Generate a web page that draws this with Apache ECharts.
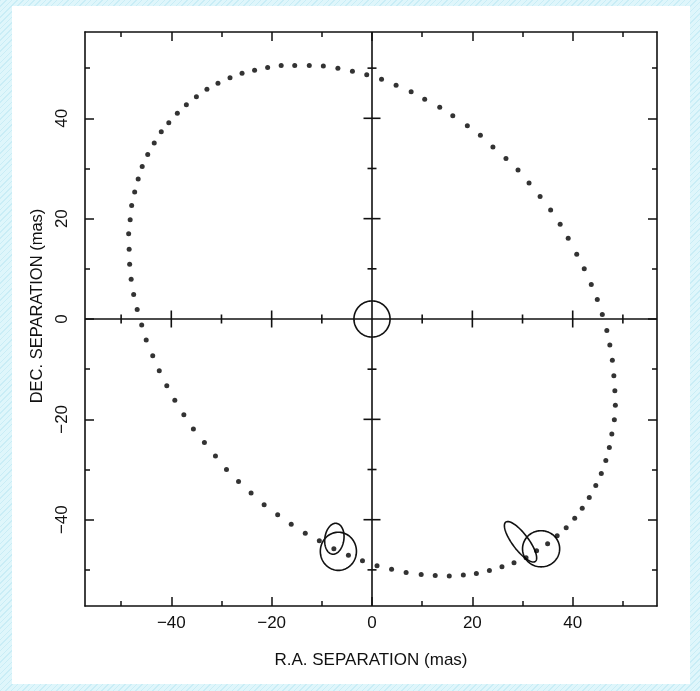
<!DOCTYPE html>
<html>
<head>
<meta charset="utf-8">
<script src="https://cdn.jsdelivr.net/npm/echarts@6/dist/echarts.min.js"></script>
<style>
  html, body { margin: 0; padding: 0; }
  body {
    width: 700px; height: 691px; position: relative; overflow: hidden;
    background: repeating-linear-gradient(135deg, #c9edf6 0px, #c9edf6 1px, #dff6fb 1px, #dff6fb 4px);
  }
  #card { position: absolute; left: 12px; top: 6px; width: 678px; height: 678px; background: #ffffff; }
  #chart { position: absolute; left: 0; top: 0; width: 700px; height: 691px; }
</style>
</head>
<body>
<div id="card"></div>
<div id="chart"></div>
<script>
// ---- data (mas) ----
const orbitRA = [
  1.9, 4.8, 7.8, 10.5, 13.5, 16.1, 19.0, 21.6, 24.1, 26.7, 29.1, 31.3, 33.5, 35.6, 37.5,
  39.1, 40.8, 42.3, 43.7, 44.9, 45.9, 46.8, 47.4, 47.9, 48.2, 48.4, 48.5, 48.3,
  47.8, 47.3, 46.6, 45.7, 44.6, 43.3, 41.9, 40.4, 38.7, 36.9, 35.0, 32.8, 30.7, 28.3, 25.9, 23.4, 20.8, 18.2, 15.4, 12.6, 9.8, 6.8, 3.9, 1.0,
  -1.9, -4.7, -7.6, -10.5, -13.3, -16.1, -18.8, -21.5, -24.1, -26.6, -29.0, -31.2, -33.4,
  -35.6, -37.5, -39.3, -40.9, -42.4, -43.7, -45.0, -45.9, -46.8, -47.5, -48.0, -48.3, -48.4, -48.5,
  -48.2, -47.9, -47.3, -46.6, -45.8, -44.7, -43.4, -42.0, -40.5, -38.8, -37.0, -35.0, -32.9, -30.7, -28.3, -25.9, -23.4, -20.8, -18.1, -15.4, -12.5, -9.7, -6.8, -3.9, -1.05
];
const orbitDec = [
  47.8, 46.6, 45.3, 43.8, 42.2, 40.5, 38.5, 36.6, 34.3, 32.0, 29.7, 27.1, 24.4, 21.7, 18.9,
  16.1, 12.9, 10.0, 6.9, 3.9, 0.9, -2.3, -5.2, -8.2, -11.3, -14.3, -17.2, -20.1,
  -22.9, -25.6, -28.2, -30.8, -33.2, -35.6, -37.7, -39.7, -41.6, -43.2, -44.8, -46.2, -47.6, -48.6, -49.4, -50.1, -50.7, -51.0, -51.2, -51.1, -50.9, -50.5, -49.9, -49.2,
  -48.2, -47.1, -45.8, -44.2, -42.7, -40.9, -39.0, -37.0, -34.7, -32.4, -30.0, -27.3, -24.6,
  -21.9, -19.1, -16.2, -13.3, -10.3, -7.3, -4.2, -1.2, 1.9, 4.9, 7.9, 10.9, 13.9, 17.0,
  19.8, 22.6, 25.3, 27.9, 30.4, 32.8, 35.1, 37.3, 39.1, 41.0, 42.7, 44.3, 45.8, 47.0, 48.1, 49.0, 49.6, 50.1, 50.5, 50.5, 50.5, 50.4, 50.0, 49.4, 48.7
];
// error ellipses / primary marker: centre, semi-axes, orientation (deg)
const ellCX  = [0, -7.5, -6.7, 29.6, 33.7];
const ellCY  = [0, -43.8, -46.3, -44.4, -45.8];
const ellA   = [3.6, 3.1, 3.8, 4.9, 3.7];
const ellB   = [3.6, 1.9, 3.6, 1.6, 3.6];
const ellAng = [0, 82, 90, 127, 0];
// ticks
const majorTicks = [-40, -20, 0, 20, 40];
const minorTicks = [-50, -30, -10, 10, 30, 50];
const crossTicks = [-50, -40, -30, -20, -10, 10, 20, 30, 40, 50];
const xTitle = 'R.A. SEPARATION (mas)';
const yTitle = 'DEC. SEPARATION (mas)';

const X_MIN = -57.2, X_MAX = 56.8, Y_MIN = -57.2, Y_MAX = 57.2;
const INK = '#111111';
const FONT = "'Liberation Sans', Arial, Helvetica, sans-serif";
const fmt = v => (v < 0 ? '\u2212' + Math.abs(v) : String(v));

function xAx(pos, ticks, len, withLine, labels) {
  return {
    type: 'value', position: pos, min: X_MIN, max: X_MAX,
    axisLine: { show: withLine, onZero: false, lineStyle: { color: INK, width: 1.6 } },
    axisTick: { show: true, inside: true, length: len, customValues: ticks, lineStyle: { color: INK, width: 1.5 } },
    axisLabel: labels ? { show: true, customValues: ticks, formatter: fmt, margin: 9, fontSize: 17, color: INK, fontFamily: FONT } : { show: false },
    splitLine: { show: false }, minorTick: { show: false },
    name: labels ? xTitle : '', nameLocation: 'middle', nameGap: 46,
    nameTextStyle: { fontSize: 17, color: INK, fontFamily: FONT }
  };
}
function yAx(pos, ticks, len, withLine, labels) {
  return {
    type: 'value', position: pos, min: Y_MIN, max: Y_MAX,
    axisLine: { show: withLine, onZero: false, lineStyle: { color: INK, width: 1.6 } },
    axisTick: { show: true, inside: true, length: len, customValues: ticks, lineStyle: { color: INK, width: 1.5 } },
    axisLabel: labels ? { show: true, customValues: ticks, formatter: fmt, margin: 14, rotate: 90, fontSize: 17, color: INK, fontFamily: FONT } : { show: false },
    splitLine: { show: false }, minorTick: { show: false },
    name: labels ? yTitle : '', nameLocation: 'middle', nameGap: 33, nameRotate: 90,
    nameTextStyle: { fontSize: 16.5, color: INK, fontFamily: FONT, padding: [0, 0, 0, 26] }
  };
}

const chart = echarts.init(document.getElementById('chart'), null, { renderer: 'canvas' });
chart.setOption({
  animation: false,
  backgroundColor: 'transparent',
  grid: { left: 85, top: 32, width: 572, height: 574, containLabel: false },
  xAxis: [
    xAx('bottom', majorTicks, 9, true, true),
    xAx('bottom', minorTicks, 5, false, false),
    xAx('top', majorTicks, 9, true, false),
    xAx('top', minorTicks, 5, false, false)
  ],
  yAxis: [
    yAx('left', majorTicks, 9, true, true),
    yAx('left', minorTicks, 5, false, false),
    yAx('right', majorTicks, 9, true, false),
    yAx('right', minorTicks, 5, false, false)
  ],
  series: [
    {
      type: 'scatter', xAxisIndex: 0, yAxisIndex: 0,
      data: orbitRA.map((x, i) => [x, orbitDec[i]]),
      symbol: 'circle', symbolSize: 5,
      itemStyle: { color: '#000000' },
      silent: true,
      markLine: {
        silent: true, symbol: ['none', 'none'], label: { show: false },
        lineStyle: { color: INK, width: 1.6, type: 'solid' },
        data: [{ xAxis: 0 }, { yAxis: 0 }]
      }
    },
    {
      type: 'custom', xAxisIndex: 0, yAxisIndex: 0, silent: true,
      data: crossTicks.map(v => [v, 0]),
      renderItem: function (params, api) {
        const v = api.value(0);
        const h = (Math.abs(v) % 20 === 0) ? 8.5 : 4.5;
        const p = api.coord([v, 0]);
        const q = api.coord([0, v]);
        const st = { stroke: INK, lineWidth: 1.6 };
        return { type: 'group', children: [
          { type: 'line', shape: { x1: p[0], y1: p[1] - h, x2: p[0], y2: p[1] + h }, style: st },
          { type: 'line', shape: { x1: q[0] - h, y1: q[1], x2: q[0] + h, y2: q[1] }, style: st }
        ] };
      }
    },
    {
      type: 'custom', xAxisIndex: 0, yAxisIndex: 0, silent: true,
      data: ellCX.map((c, i) => [c, ellCY[i], ellA[i], ellB[i], ellAng[i]]),
      encode: { x: 0, y: 1 },
      renderItem: function (params, api) {
        const cx = api.value(0), cy = api.value(1), a = api.value(2), b = api.value(3);
        const th = api.value(4) * Math.PI / 180;
        const pts = [];
        for (let k = 0; k < 96; k++) {
          const t = k / 96 * Math.PI * 2;
          const x = cx + a * Math.cos(t) * Math.cos(th) - b * Math.sin(t) * Math.sin(th);
          const y = cy + a * Math.cos(t) * Math.sin(th) + b * Math.sin(t) * Math.cos(th);
          pts.push(api.coord([x, y]));
        }
        return { type: 'polygon', shape: { points: pts }, style: { fill: 'none', stroke: INK, lineWidth: 1.6 } };
      }
    }
  ]
});
</script>
</body>
</html>
